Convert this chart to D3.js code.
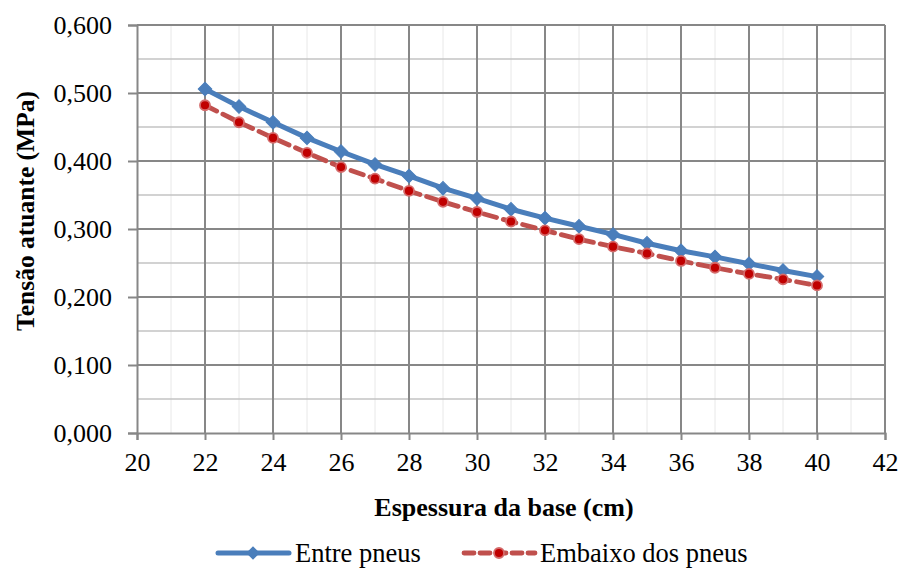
<!DOCTYPE html>
<html>
<head>
<meta charset="utf-8">
<script src="https://cdn.jsdelivr.net/npm/d3@7"></script>
<style>
  html, body { margin: 0; padding: 0; background: #fff; }
  #chart text { font-family: "Times New Roman", "Liberation Serif", Tinos, Times, serif !important; }
</style>
</head>
<body>
<svg id="chart" width="900" height="568"></svg>
<script>
// Base thickness (cm) and the acting stress (MPa) for the two load positions
const espessura = [22, 23, 24, 25, 26, 27, 28, 29, 30, 31, 32, 33, 34, 35, 36, 37, 38, 39, 40];
const entrePneus = [0.506, 0.480, 0.457, 0.434, 0.414, 0.395, 0.378, 0.360, 0.345, 0.329,
                    0.316, 0.304, 0.292, 0.279, 0.268, 0.259, 0.249, 0.239, 0.230];
const embaixoPneus = [0.482, 0.457, 0.434, 0.412, 0.391, 0.374, 0.356, 0.340, 0.325, 0.311,
                      0.298, 0.285, 0.274, 0.264, 0.253, 0.243, 0.234, 0.226, 0.217];
const xTicks = [20, 22, 24, 26, 28, 30, 32, 34, 36, 38, 40, 42];
const yTicks = [0, 0.1, 0.2, 0.3, 0.4, 0.5, 0.6];
const seriesNames = ["Entre pneus", "Embaixo dos pneus"];

const FONT = "Times New Roman";
const svg = d3.select("#chart");
const plot = { left: 137, right: 885, top: 25, bottom: 433 };

const x = d3.scaleLinear().domain([20, 42]).range([plot.left, plot.right]);
const y = d3.scaleLinear().domain([0, 0.6]).range([plot.bottom, plot.top]);

const fmt = v => d3.format(".3f")(v).replace(".", ",");
const gridMajor = "#878787", gridMinorH = "#c3c3c3", gridMinorV = "#e8e8e8";

// Minor gridlines
const g = svg.append("g");
g.selectAll(".vminor").data(d3.range(21, 42, 2)).join("line")
  .attr("x1", d => x(d)).attr("x2", d => x(d))
  .attr("y1", plot.top).attr("y2", plot.bottom)
  .attr("stroke", gridMinorV).attr("stroke-width", 1);
g.selectAll(".hminor").data(d3.range(0.05, 0.6, 0.1)).join("line")
  .attr("x1", plot.left).attr("x2", plot.right)
  .attr("y1", d => y(d)).attr("y2", d => y(d))
  .attr("stroke", gridMinorH).attr("stroke-width", 1.6);

// Major gridlines
g.selectAll(".vmajor").data(xTicks.slice(1)).join("line")
  .attr("x1", d => x(d)).attr("x2", d => x(d))
  .attr("y1", plot.top).attr("y2", plot.bottom)
  .attr("stroke", gridMajor).attr("stroke-width", 2);
g.selectAll(".hmajor").data(yTicks.slice(1)).join("line")
  .attr("x1", plot.left).attr("x2", plot.right)
  .attr("y1", d => y(d)).attr("y2", d => y(d))
  .attr("stroke", gridMajor).attr("stroke-width", 2);

// Axes
const xAxis = svg.append("g")
  .attr("transform", `translate(0,${plot.bottom})`)
  .call(d3.axisBottom(x).tickValues(xTicks).tickSize(7).tickFormat(d3.format("d")));
const yAxis = svg.append("g")
  .attr("transform", `translate(${plot.left},0)`)
  .call(d3.axisLeft(y).tickValues(yTicks).tickSize(9).tickFormat(fmt));
[xAxis, yAxis].forEach(a => {
  a.attr("font-family", FONT).attr("font-size", 26);
  a.select(".domain").attr("stroke", gridMajor).attr("stroke-width", 2);
  a.selectAll(".tick line").attr("stroke", gridMajor).attr("stroke-width", 2);
  a.selectAll(".tick text").attr("fill", "#000").attr("font-family", FONT).attr("font-size", 26);
});
xAxis.selectAll(".tick text").attr("y", 38).attr("dy", 0);
yAxis.selectAll(".tick text").attr("x", -25).attr("dy", "0.34em");

// Series
const blue = "#4A7EBB", redLine = "#C0504D", redFill = "#C00000", redEdge = "#D46A6A";
const ptsA = espessura.map((e, i) => [e, entrePneus[i]]);
const ptsB = espessura.map((e, i) => [e, embaixoPneus[i]]);
const line = d3.line().x(d => x(d[0])).y(d => y(d[1]));

svg.append("path").datum(ptsA).attr("d", line)
  .attr("fill", "none").attr("stroke", blue).attr("stroke-width", 5)
  .attr("stroke-linejoin", "round");
svg.append("path").datum(ptsB).attr("d", line)
  .attr("fill", "none").attr("stroke", redLine).attr("stroke-width", 4.8)
  .attr("stroke-dasharray", "13,7").attr("stroke-linecap", "round");

const diamond = d3.symbol().type(d3.symbolSquare).size(92);
svg.selectAll(".mA").data(ptsA).join("path")
  .attr("d", diamond)
  .attr("transform", d => `translate(${x(d[0])},${y(d[1])}) rotate(45)`)
  .attr("fill", blue).attr("stroke", blue).attr("stroke-width", 1);
svg.selectAll(".mB").data(ptsB).join("circle")
  .attr("cx", d => x(d[0])).attr("cy", d => y(d[1])).attr("r", 5)
  .attr("fill", redFill).attr("stroke", redEdge).attr("stroke-width", 1.8);

// Axis titles
svg.append("text")
  .attr("x", 504).attr("y", 516).attr("text-anchor", "middle")
  .attr("font-family", FONT).attr("font-size", 26).attr("font-weight", "bold")
  .text("Espessura da base (cm)");
svg.append("text")
  .attr("transform", "translate(34,211) rotate(-90)").attr("text-anchor", "middle")
  .attr("font-family", FONT).attr("font-size", 25.5).attr("font-weight", "bold")
  .text("Tensão atuante (MPa)");

// Legend
const legend = svg.append("g");
const lgY = 553;
legend.append("line").attr("x1", 218).attr("x2", 289).attr("y1", lgY).attr("y2", lgY)
  .attr("stroke", blue).attr("stroke-width", 5).attr("stroke-linecap", "round");
legend.append("path").attr("d", diamond)
  .attr("transform", `translate(253,${lgY}) rotate(45)`).attr("fill", blue);
legend.append("text").attr("x", 295).attr("y", lgY + 9)
  .attr("font-family", FONT).attr("font-size", 26.5).text(seriesNames[0]);
legend.append("line").attr("x1", 464).attr("x2", 535).attr("y1", lgY).attr("y2", lgY)
  .attr("stroke", redLine).attr("stroke-width", 4.8)
  .attr("stroke-dasharray", "10,6").attr("stroke-linecap", "round");
legend.append("circle").attr("cx", 499).attr("cy", lgY).attr("r", 5)
  .attr("fill", redFill).attr("stroke", redEdge).attr("stroke-width", 1.8);
legend.append("text").attr("x", 540).attr("y", lgY + 9)
  .attr("font-family", FONT).attr("font-size", 26.5).text(seriesNames[1]);
</script>
</body>
</html>
